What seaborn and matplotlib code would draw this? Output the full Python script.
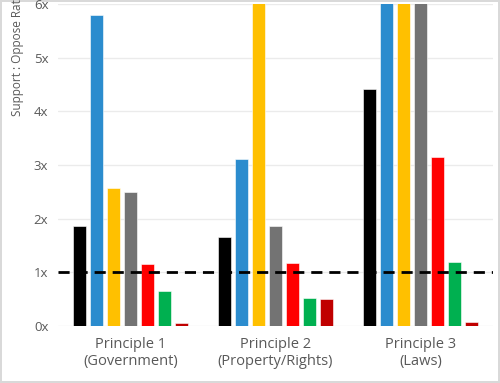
import numpy as np
import pandas as pd
import matplotlib
matplotlib.use("Agg")
import matplotlib.pyplot as plt
import seaborn as sns

# ── Data ────────────────────────────────────────────────────────────────────
principles = ["Principle 1\n(Government)", "Principle 2\n(Property/Rights)", "Principle 3\n(Laws)"]
groups = ["Group 1", "Group 2", "Group 3", "Group 4", "Group 5", "Group 6", "Group 7"]
colors = ["#000000", "#2B8CCE", "#FFC000", "#737373", "#FF0000", "#00B050", "#C00000"]

p1_ratios = [1.86, 5.79, 2.57, 2.50, 1.15, 0.65, 0.06]
p2_ratios = [1.66, 3.11, 6.30, 1.86, 1.17, 0.52, 0.50]
p3_ratios = [4.41, 9.0, 11.0, 22.0, 3.15, 1.19, 0.07]

y_max = 6
y_ticks = [0, 1, 2, 3, 4, 5, 6]
y_ticklabels = ["0x", "1x", "2x", "3x", "4x", "5x", "6x"]

df = pd.DataFrame({
    "principle": np.repeat(principles, len(groups)),
    "group": groups * len(principles),
    "ratio": p1_ratios + p2_ratios + p3_ratios,
})

# ── Plot ────────────────────────────────────────────────────────────────────
sns.set_theme(style="white")
plt.rcParams["font.family"] = ["Open Sans", "DejaVu Sans"]

fig = plt.figure(figsize=(5, 3.83), dpi=100)
fig.patch.set_edgecolor("#D9D9D9")
fig.patch.set_linewidth(1.5)
ax = fig.add_axes([0.116, 0.149, 0.87, 0.841])

sns.barplot(data=df, x="principle", y="ratio", hue="group", order=principles,
            hue_order=groups, palette=colors, saturation=1, width=0.82, gap=0.2,
            edgecolor="white", linewidth=0.4, legend=False, ax=ax)

ax.set_ylim(0, y_max)
ax.set_yticks(y_ticks)
ax.set_yticklabels(y_ticklabels)
ax.set_xlim(-0.5, len(principles) - 0.5)
ax.yaxis.grid(True, color="#EBEBEB", linewidth=1)
ax.set_axisbelow(True)
for s in ax.spines.values():
    s.set_visible(False)
ax.tick_params(axis="both", length=0, colors="#595959")
ax.tick_params(axis="y", labelsize=9.5, pad=7)
ax.tick_params(axis="x", labelsize=10.5, pad=8)
ax.set_xlabel("")
ax.set_ylabel("")

ax.axhline(1, color="black", linestyle=(0, (4, 2.5)), linewidth=2, zorder=5)

# value labels above bars that run off the top (cut by the figure edge)
for cont, g in zip(ax.containers, groups):
    for bar, p in zip(cont, principles):
        val = df.loc[(df.group == g) & (df.principle == p), "ratio"].iloc[0]
        if val > y_max:
            ax.text(bar.get_x() + bar.get_width() / 2, y_max + 0.06, f"{val:.0f}",
                    ha="center", va="bottom", fontsize=9, color="#595959", clip_on=False)

fig.text(18 / 500, 1 - 116 / 383, "Support : Oppose Ratio", rotation=90,
         ha="center", va="bottom", fontsize=8.5, color="#595959")

fig.savefig("out.png", dpi=100)
